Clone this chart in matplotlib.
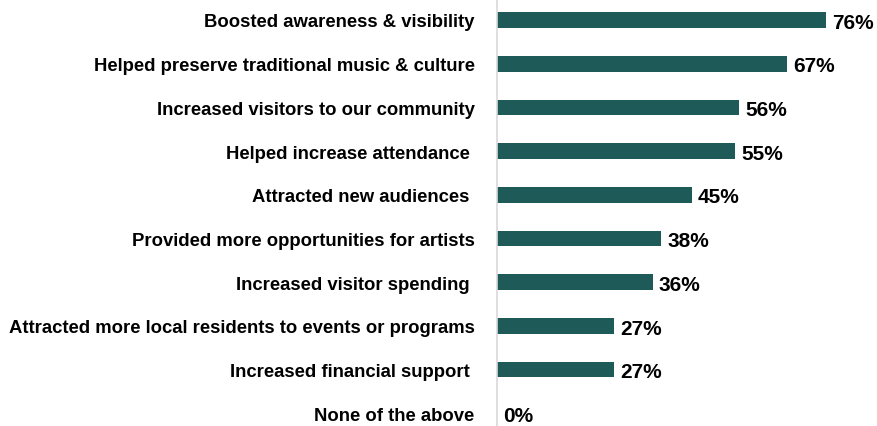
import matplotlib
matplotlib.use('Agg')
import matplotlib.pyplot as plt
import numpy as np

plt.rcParams['font.family'] = ['Liberation Sans Narrow', 'Liberation Sans', 'DejaVu Sans']

categories = [
    "Boosted awareness & visibility",
    "Helped preserve traditional music & culture",
    "Increased visitors to our community",
    "Helped increase attendance ",
    "Attracted new audiences ",
    "Provided more opportunities for artists",
    "Increased visitor spending ",
    "Attracted more local residents to events or programs",
    "Increased financial support ",
    "None of the above",
]
values = [76, 67, 56, 55, 45, 38, 36, 27, 27, 0]

bar_color = '#1e5b58'

fig = plt.figure(figsize=(8.78, 4.27), dpi=100)
ax = fig.add_axes([0.566, 0.0, 0.434, 1.0])

ypos = np.arange(len(categories))
ax.barh(ypos, values, height=0.36, color=bar_color)

ax.set_xlim(0, 88)
ax.set_ylim(9.29, -0.48)

ax.set_yticks(ypos)
ax.set_yticklabels(categories, fontsize=13.3, fontweight='bold')
ax.tick_params(axis='y', length=0, pad=16)
ax.set_xticks([])

for side in ['top', 'right', 'bottom']:
    ax.spines[side].set_visible(False)
ax.spines['left'].set_color('#d9d9d9')
ax.spines['left'].set_linewidth(1.2)

# value labels
for y, v in zip(ypos, values):
    ax.text(v + 1.4, y + 0.05, f"{v}%", va='center', ha='left',
            fontsize=15, fontweight='bold')

fig.savefig('out.png', dpi=100)
